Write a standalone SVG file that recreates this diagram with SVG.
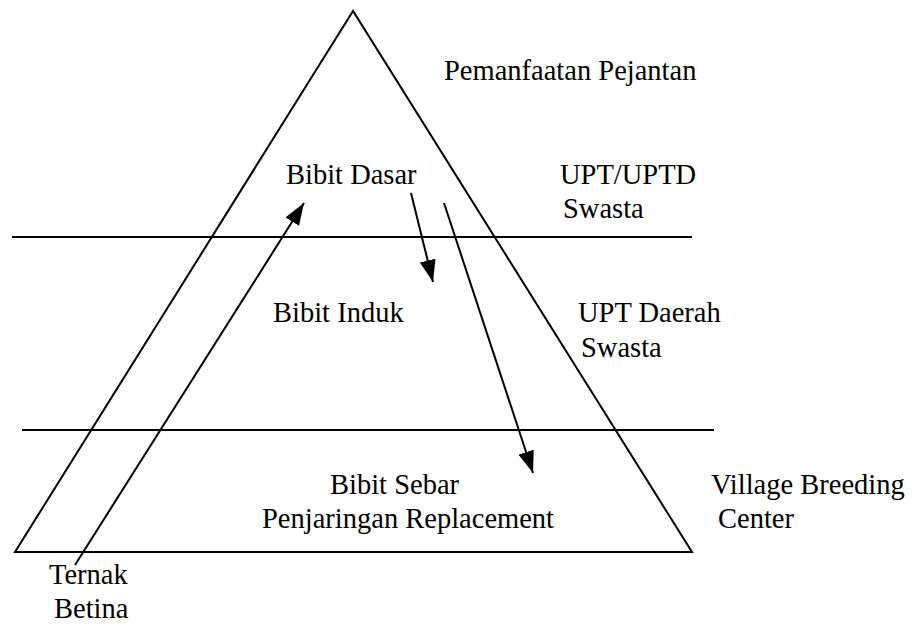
<svg xmlns="http://www.w3.org/2000/svg" width="917" height="637" viewBox="0 0 917 637">
<style>
.t{font-family:'Liberation Serif','Tinos','DejaVu Serif',serif;font-size:28.5px;fill:#000}
.ln{stroke:#000;stroke-width:2;fill:none}
</style>
<defs>
<marker id="ah2" viewBox="0 0 22 16" refX="22" refY="8" markerWidth="22" markerHeight="16" orient="auto" markerUnits="userSpaceOnUse">
<path d="M0,0 L22,8 L0,16 z" fill="#000"/>
</marker>
</defs>
<g id="pyramid">
<polygon class="ln" points="353,11 15,552 692,552"/>
<line class="ln" x1="12" y1="237" x2="692" y2="237"/>
<line class="ln" x1="22" y1="430" x2="714" y2="430"/>
</g>
<g id="connectors">
<line class="ln" x1="75" y1="565" x2="304" y2="203" marker-end="url(#ah2)"/>
<line class="ln" x1="411" y1="193" x2="433" y2="282" marker-end="url(#ah2)"/>
<line class="ln" x1="444" y1="203" x2="533" y2="473" marker-end="url(#ah2)"/>
</g>
<g id="labels" class="t" font-family="Liberation Serif, serif">
<text x="444" y="80">Pemanfaatan Pejantan</text>
<text x="286" y="184">Bibit Dasar</text>
<text x="560" y="184">UPT/UPTD</text>
<text x="563" y="218">Swasta</text>
<text x="273" y="322">Bibit Induk</text>
<text x="578" y="322">UPT Daerah</text>
<text x="581" y="357">Swasta</text>
<text x="330" y="494">Bibit Sebar</text>
<text x="262" y="528">Penjaringan Replacement</text>
<text x="711" y="494">Village Breeding</text>
<text x="718" y="528">Center</text>
<text x="49" y="584">Ternak</text>
<text x="54" y="618">Betina</text>
</g>
</svg>
